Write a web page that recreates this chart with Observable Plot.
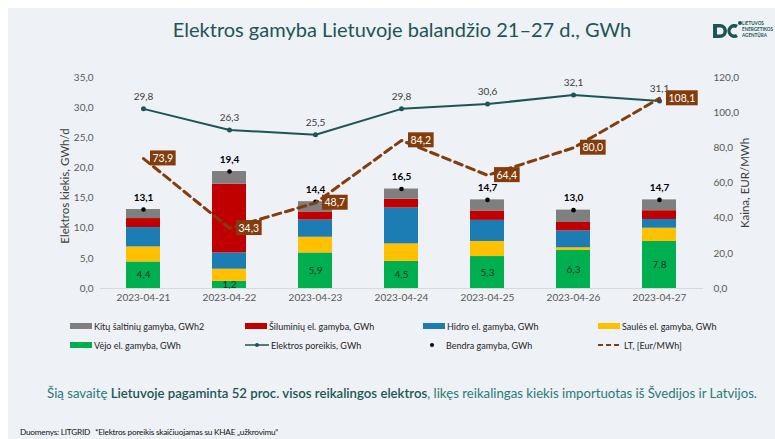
<!DOCTYPE html>
<html><head><meta charset="utf-8">
<script src="https://cdn.jsdelivr.net/npm/d3@7"></script>
<script src="https://cdn.jsdelivr.net/npm/@observablehq/plot@0.6"></script>
<style>
body{margin:0;width:775px;height:439px;position:relative;overflow:hidden;background:#fff;font-family:Lato,"Open Sans",sans-serif;}
#bg{position:absolute;left:8px;top:8px;width:767px;height:431px;background:#eef1f5;}
#title{position:absolute;left:0;width:804px;top:17px;text-align:center;font-size:20px;color:#1d5556;white-space:nowrap;}
#chart{position:absolute;left:0;top:0;}
.ytitle{position:absolute;font-size:11.5px;color:#404040;white-space:nowrap;transform:translate(-50%,-50%) rotate(-90deg);}
.leg{position:absolute;font-size:9px;color:#262626;white-space:nowrap;display:flex;align-items:center;}
.sw{display:inline-block;width:22px;height:6px;margin-right:2px;}
#sentence{position:absolute;left:0;width:804px;top:385px;text-align:center;font-size:13.2px;color:#2a7a78;white-space:nowrap;}
#sentence b{color:#1d5556;font-weight:600;}
.foot{position:absolute;top:427px;font-size:8.2px;color:#111;white-space:nowrap;letter-spacing:-0.2px;}
#logo{position:absolute;left:711px;top:18px;}
#logotext{position:absolute;left:742px;top:20px;font-size:4.6px;line-height:6px;color:#1d5556;font-weight:bold;white-space:nowrap;}
</style></head>
<body>
<div id="bg"></div>
<div id="title">Elektros gamyba Lietuvoje balandžio 21–27 d., GWh</div>
<svg id="logo" width="32" height="24" viewBox="0 0 32 24">
  <path d="M2 6 h7 a7 7 0 0 1 0 14 h-7 z M6 9.5 v7 h3 a3.5 3.5 0 0 0 0 -7 z" fill="#1d5556" fill-rule="evenodd"/>
  <path d="M27 7 a7 7 0 1 0 0 12 l-2 -3 a3.5 3.5 0 1 1 0 -6 z" fill="#1d5556"/>
  <circle cx="29" cy="5" r="2" fill="#1d5556"/>
</svg>
<div id="logotext">LIETUVOS<br>ENERGETIKOS<br>AGENTŪRA</div>
<div id="chart"></div>
<div class="ytitle" style="left:64px;top:186px">Elektros kiekis, GWh/d</div>
<div class="ytitle" style="left:744px;top:183px">Kaina, EUR/MWh</div>
<div id="legend"></div>
<div id="sentence">Šią savaitę <b>Lietuvoje pagaminta 52 proc. visos reikalingos elektros</b>, likęs reikalingas kiekis importuotas iš Švedijos ir Latvijos.</div>
<div class="foot" style="left:20px">Duomenys: LITGRID</div>
<div class="foot" style="left:95px">*Elektros poreikis skaičiuojamas su KHAE „užkrovimu“</div>
<script>
const dates = ["2023-04-21","2023-04-22","2023-04-23","2023-04-24","2023-04-25","2023-04-26","2023-04-27"];
const wind    = [4.4, 1.2, 5.9, 4.5, 5.3, 6.3, 7.8];
const solar   = [2.5, 2.0, 2.6, 2.9, 2.5, 0.45, 2.2];
const hydro   = [3.2, 2.7, 2.85, 5.95, 3.5, 2.8, 1.45];
const thermal = [1.5, 11.4, 1.35, 1.45, 1.55, 1.4, 1.45];
const other   = [1.5, 2.1, 1.7, 1.7, 1.85, 2.05, 1.8];
const total   = [13.1, 19.4, 14.4, 16.5, 14.7, 13.0, 14.7];
const demand  = [29.8, 26.3, 25.5, 29.8, 30.6, 32.1, 31.1];
const price   = [73.9, 34.3, 48.7, 84.2, 64.4, 80.0, 108.1];
const leftTicks  = [0, 5, 10, 15, 20, 25, 30, 35];
const rightTicks = [0, 20, 40, 60, 80, 100, 120];

const seriesNames  = ["Vėjo el. gamyba, GWh","Saulės el. gamyba, GWh","Hidro el. gamyba, GWh","Šiluminių el. gamyba, GWh","Kitų šaltinių gamyba, GWh2"];
const seriesVals   = [wind, solar, hydro, thermal, other];
const seriesColors = ["#00b050","#ffc000","#1b7db3","#c00000","#7f7f7f"];

const K = 35/120; // right axis (price) to left axis units
const fmt = v => d3.format(".1f")(v).replace(".", ",");

const rows = dates.flatMap((d,i) => seriesNames.map((s,j) => ({date:d, series:s, value:seriesVals[j][i]})));
const pts = dates.map((d,i) => ({date:d, wind:wind[i], total:total[i], demand:demand[i], price:price[i]}));

const chart = Plot.plot({
  width:775, height:310, marginTop:77, marginBottom:22, marginLeft:100, marginRight:72,
  style:{background:"transparent", fontFamily:"Lato, sans-serif", fontSize:"10px", color:"#595959", overflow:"visible"},
  x:{domain:dates, paddingInner:0.6, paddingOuter:0.3, axis:null},
  y:{domain:[0,35], axis:null},
  color:{domain:seriesNames, range:seriesColors},
  marks:[
    Plot.axisX({tickSize:0, tickPadding:5, label:null}),
    Plot.axisY(leftTicks, {anchor:"left", tickSize:0, tickPadding:7, tickFormat:fmt, label:null}),
    Plot.axisY(rightTicks.map(v => v*K), {anchor:"right", tickSize:0, tickPadding:10, tickFormat:d => fmt(d/K), label:null}),
    Plot.ruleY([0], {stroke:"#d9d9d9"}),
    Plot.barY(rows, {x:"date", y:"value", fill:"series", order:seriesNames}),
    Plot.text(pts, {x:"date", y:d => d.wind/2, text:d => fmt(d.wind), fill:"#1a3324", fontSize:10}),
    Plot.dot(pts, {x:"date", y:"total", r:2.3, fill:"black"}),
    Plot.text(pts, {x:"date", y:"total", text:d => fmt(d.total), dy:-12, fill:"black", fontWeight:"bold", fontSize:10}),
    Plot.line(pts, {x:"date", y:"demand", stroke:"#1d5556", strokeWidth:2}),
    Plot.dot(pts, {x:"date", y:"demand", r:2.5, fill:"#1d5556"}),
    Plot.text(pts, {x:"date", y:"demand", text:d => fmt(d.demand), dy:-12, fill:"#404040", fontSize:10}),
    Plot.line(pts, {x:"date", y:d => d.price*K, stroke:"#843c0c", strokeWidth:3, strokeDasharray:"8,5"}),
    Plot.text(pts, {x:"date", y:d => d.price*K, text:d => fmt(d.price), dx:9, textAnchor:"start", fill:"white", fontSize:10.5, ariaDescription:"price-labels"})
  ]
});
document.getElementById("chart").append(chart);

// boxes behind price labels
let priceTexts = chart.querySelectorAll('g[aria-description="price-labels"] text');
if (!priceTexts.length) priceTexts = chart.querySelectorAll('g[fill="white"] text');
priceTexts.forEach(t => {
  const b = t.getBBox();
  const r = document.createElementNS("http://www.w3.org/2000/svg","rect");
  r.setAttribute("x", b.x - 2.5); r.setAttribute("y", b.y - 1.5);
  r.setAttribute("width", b.width + 5); r.setAttribute("height", b.height + 3);
  r.setAttribute("fill", "#843c0c");
  if (t.getAttribute("transform")) r.setAttribute("transform", t.getAttribute("transform"));
  t.parentNode.insertBefore(r, t);
});

// legend
const legendItems = [
  {label:seriesNames[4], kind:"sw", color:seriesColors[4], x:70, y:326},
  {label:seriesNames[3], kind:"sw", color:seriesColors[3], x:245, y:326},
  {label:seriesNames[2], kind:"sw", color:seriesColors[2], x:423, y:326},
  {label:seriesNames[1], kind:"sw", color:seriesColors[1], x:598, y:326},
  {label:seriesNames[0], kind:"sw", color:seriesColors[0], x:70, y:345},
  {label:"Elektros poreikis, GWh", kind:"line", color:"#1d5556", x:245, y:345},
  {label:"Bendra gamyba, GWh", kind:"dot", color:"#000", x:420, y:345},
  {label:"LT, [Eur/MWh]", kind:"dash", color:"#843c0c", x:598, y:345}
];
const leg = document.getElementById("legend");
legendItems.forEach(it => {
  const d = document.createElement("div");
  d.className = "leg";
  d.style.left = it.x + "px"; d.style.top = (it.y - 7) + "px"; d.style.height = "14px";
  let sym;
  if (it.kind === "sw") sym = `<span class="sw" style="background:${it.color}"></span>`;
  else if (it.kind === "line") sym = `<svg width="24" height="8" style="margin-right:2px"><line x1="0" y1="4" x2="24" y2="4" stroke="${it.color}" stroke-width="1.5"/><circle cx="12" cy="4" r="2" fill="${it.color}"/></svg>`;
  else if (it.kind === "dot") sym = `<svg width="24" height="8" style="margin-right:2px"><circle cx="12" cy="4" r="2" fill="${it.color}"/></svg>`;
  else sym = `<svg width="24" height="8" style="margin-right:2px"><line x1="0" y1="4" x2="24" y2="4" stroke="${it.color}" stroke-width="2" stroke-dasharray="5,3"/></svg>`;
  d.innerHTML = sym + `<span>${it.label}</span>`;
  leg.append(d);
});
</script>
</body></html>
